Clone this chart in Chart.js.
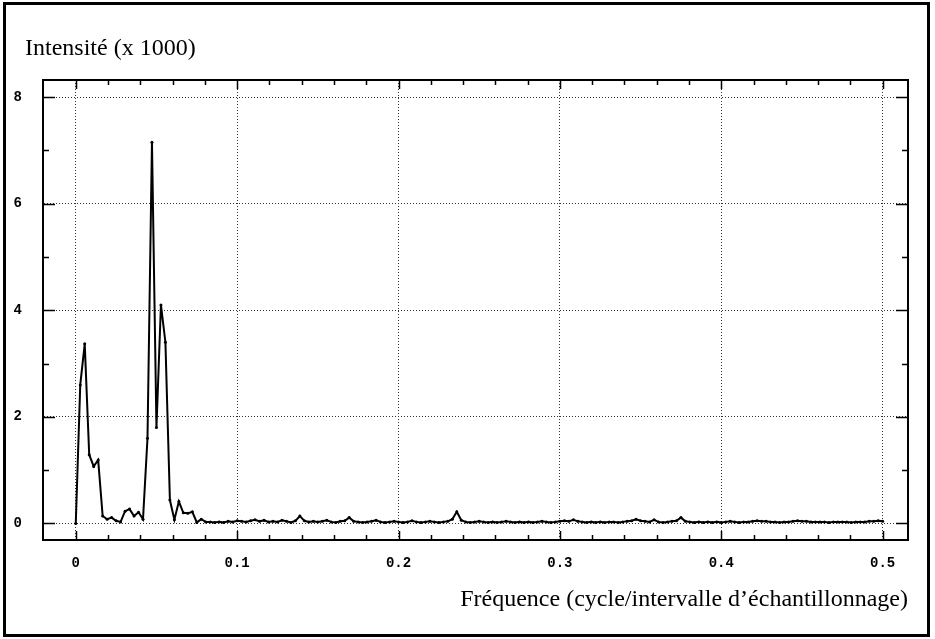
<!DOCTYPE html>
<html>
<head>
<meta charset="utf-8">
<title>Périodogramme</title>
<script src="https://cdn.jsdelivr.net/npm/chart.js@4.4.1/dist/chart.umd.min.js"></script>
<style>
    body { margin: 0; background: #fff; }
    #cadre {
        position: absolute; left: 3px; top: 2px;
        width: 921px; height: 629px;
        border: 3px solid #000;
    }
    canvas { position: absolute; left: 0; top: 0; }
</style>
</head>
<body>
<div id="cadre"></div>
<canvas id="spectre" width="935" height="639"></canvas>
<script>
// Frequency spacing between two estimates (cycle / sampling interval)
const pasFrequence = 1 / 360;

// Intensity (x 1000), one value per frequency
const intensite = [
    0, 2.6, 3.37, 1.29, 1.07, 1.19, 0.14, 0.08, 0.11, 0.05,
    0.03, 0.23, 0.27, 0.14, 0.21, 0.08, 1.6, 7.15, 1.8, 4.1,
    3.4, 0.44, 0.07, 0.41, 0.2, 0.19, 0.22, 0.02, 0.08, 0.03,
    0.03, 0.02, 0.03, 0.02, 0.04, 0.03, 0.05, 0.04, 0.03, 0.05,
    0.07, 0.04, 0.06, 0.03, 0.04, 0.03, 0.06, 0.04, 0.02, 0.05,
    0.14, 0.05, 0.03, 0.04, 0.03, 0.04, 0.06, 0.03, 0.02, 0.04,
    0.05, 0.11, 0.04, 0.03, 0.02, 0.03, 0.04, 0.06, 0.03, 0.02,
    0.03, 0.04, 0.03, 0.02, 0.03, 0.05, 0.03, 0.02, 0.03, 0.04,
    0.03, 0.02, 0.03, 0.04, 0.08, 0.22, 0.06, 0.03, 0.02, 0.03,
    0.04, 0.03, 0.02, 0.03, 0.02, 0.03, 0.04, 0.03, 0.02, 0.03,
    0.02, 0.03, 0.02, 0.03, 0.04, 0.03, 0.02, 0.03, 0.04, 0.05,
    0.04, 0.07, 0.04, 0.03, 0.02, 0.03, 0.02, 0.03, 0.02, 0.03,
    0.03, 0.02, 0.03, 0.04, 0.05, 0.08, 0.05, 0.04, 0.03, 0.07,
    0.03, 0.02, 0.03, 0.04, 0.05, 0.11, 0.04, 0.03, 0.02, 0.03,
    0.02, 0.03, 0.02, 0.03, 0.02, 0.03, 0.04, 0.03, 0.02, 0.03,
    0.03, 0.04, 0.05, 0.04, 0.04, 0.03, 0.03, 0.02, 0.03, 0.03,
    0.04, 0.05, 0.04, 0.04, 0.03, 0.03, 0.03, 0.03, 0.02, 0.03,
    0.03, 0.03, 0.03, 0.02, 0.03, 0.03, 0.03, 0.04, 0.04, 0.05,
    0.04
];

// Tick labels
const xTicks = [0, 0.1, 0.2, 0.3, 0.4, 0.5];
const yTicks = [0, 2, 4, 6, 8];
const xPetitsTicks = [0, 0.02, 0.04, 0.06, 0.08, 0.1, 0.12, 0.14, 0.16, 0.18, 0.2,
    0.22, 0.24, 0.26, 0.28, 0.3, 0.32, 0.34, 0.36, 0.38, 0.4, 0.42, 0.44, 0.46, 0.48, 0.5];
const yPetitsTicks = [0, 1, 2, 3, 4, 5, 6, 7, 8];

const titreY = 'Intensité (x 1000)';
const titreX = 'Fréquence (cycle/intervalle d\u2019échantillonnage)';

const points = intensite.map((v, i) => ({ x: i * pasFrequence, y: v }));

const serif = '"Liberation Serif", "Times New Roman", serif';
const mono = '"Liberation Mono", "DejaVu Sans Mono", monospace';

// Frame on all four sides, small inner tick marks, and the y title
const cadreTicks = {
    id: 'cadreTicks',
    afterDraw(chart) {
        const { ctx, chartArea: a, scales } = chart;
        ctx.save();
        ctx.strokeStyle = '#000';
        ctx.lineWidth = 2;
        ctx.strokeRect(a.left, a.top, a.right - a.left, a.bottom - a.top);
        ctx.lineWidth = 1.5;
        ctx.beginPath();
        xPetitsTicks.forEach((v, k) => {
            const px = Math.round(scales.x.getPixelForValue(v)) + 0.5;
            const len = k % 5 === 0 ? 9 : 5;
            ctx.moveTo(px, a.bottom); ctx.lineTo(px, a.bottom - len);
            ctx.moveTo(px, a.top); ctx.lineTo(px, a.top + len);
        });
        yPetitsTicks.forEach(v => {
            const py = Math.round(scales.y.getPixelForValue(v)) + 0.5;
            const len = v % 2 === 0 ? 12 : 6;
            ctx.moveTo(a.left, py); ctx.lineTo(a.left + len, py);
            ctx.moveTo(a.right, py); ctx.lineTo(a.right - len, py);
        });
        ctx.stroke();

        // y axis title, above the frame at the left
        ctx.fillStyle = '#000';
        ctx.font = '24px ' + serif;
        ctx.textAlign = 'left';
        ctx.textBaseline = 'middle';
        ctx.fillText(titreY, 25, 49);
        ctx.restore();
    }
};

new Chart(document.getElementById('spectre'), {
    type: 'line',
    data: {
        datasets: [{
            data: points,
            borderColor: '#000',
            borderWidth: 2,
            pointRadius: 1.5,
            pointBackgroundColor: '#000',
            pointBorderWidth: 0,
            tension: 0
        }]
    },
    options: {
        responsive: false,
        animation: false,
        layout: { padding: { left: 6, right: 27, top: 80, bottom: 0 } },
        plugins: {
            legend: { display: false },
            tooltip: { enabled: false }
        },
        scales: {
            x: {
                type: 'linear',
                min: -0.0203,
                max: 0.5157,
                afterBuildTicks: function(scale) {
                    scale.ticks = xTicks.map(v => ({ value: v }));
                },
                afterFit: function(scale) { scale.height = 99; },
                grid: { color: '#333', lineWidth: 1, drawTicks: false },
                border: { display: true, color: '#000', width: 2, dash: [1, 2] },
                ticks: {
                    color: '#000',
                    padding: 15,
                    maxRotation: 0,
                    autoSkip: false,
                    font: { family: mono, size: 14, weight: 'bold' },
                    callback: v => v === 0 ? '0' : v.toFixed(1)
                },
                title: {
                    display: true,
                    text: titreX,
                    align: 'end',
                    color: '#000',
                    font: { family: serif, size: 24, weight: 'normal' },
                    padding: { top: 0, bottom: 25 }
                }
            },
            y: {
                min: -0.31,
                max: 8.32,
                afterBuildTicks: function(scale) {
                    scale.ticks = yTicks.map(v => ({ value: v }));
                },
                afterFit: function(scale) { scale.width = 37; },
                grid: { color: '#333', lineWidth: 1, drawTicks: false },
                border: { display: true, color: '#000', width: 2, dash: [1, 2] },
                ticks: {
                    color: '#000',
                    padding: 21,
                    font: { family: mono, size: 14, weight: 'bold' }
                }
            }
        }
    },
    plugins: [cadreTicks]
});
</script>
</body>
</html>
